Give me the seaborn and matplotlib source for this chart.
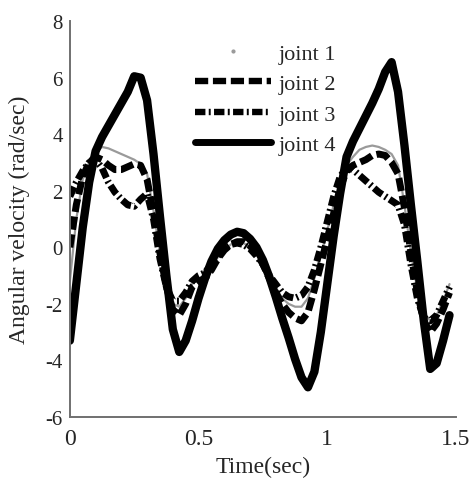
import numpy as np
import pandas as pd
import matplotlib
matplotlib.use("Agg")
import matplotlib.pyplot as plt
from matplotlib.lines import Line2D
import seaborn as sns

# Sample times (s) shared by all four joints
time_s = [0.000, 0.025, 0.050, 0.075, 0.100, 0.125, 0.150, 0.175, 0.200, 0.225,
          0.250, 0.275, 0.300, 0.325, 0.350, 0.375, 0.400, 0.425, 0.450, 0.475,
          0.500, 0.525, 0.550, 0.575, 0.600, 0.625, 0.650, 0.675, 0.700, 0.725,
          0.750, 0.775, 0.800, 0.825, 0.850, 0.875, 0.900, 0.925, 0.950, 0.975,
          1.000, 1.025, 1.050, 1.075, 1.100, 1.125, 1.150, 1.175, 1.200, 1.225,
          1.250, 1.275, 1.300, 1.325, 1.350, 1.375, 1.400, 1.425, 1.450, 1.475]

# Angular velocity of each joint (rad/sec)
joint1 = [-1.2, 1.0, 2.4, 3.0, 3.35, 3.55, 3.5, 3.4, 3.3, 3.2,
          3.1, 2.95, 2.6, 1.3, -0.2, -1.3, -2.0, -2.1, -1.8, -1.3,
          -1.1, -1.0, -0.7, -0.35, -0.1, 0.1, 0.2, 0.15, 0.0, -0.25,
          -0.6, -1.05, -1.45, -1.8, -2.0, -2.1, -2.1, -1.8, -1.1, -0.3,
          0.6, 1.5, 2.3, 2.9, 3.2, 3.45, 3.55, 3.6, 3.55, 3.45,
          3.3, 2.9, 1.5, -0.2, -1.5, -2.3, -2.6, -2.4, -1.9, -1.3]

joint2 = [0.0, 1.5, 2.5, 3.0, 3.2, 3.1, 2.9, 2.75, 2.75, 2.85,
          2.95, 2.9, 2.4, 1.2, -0.2, -1.4, -2.2, -2.4, -2.0, -1.4,
          -1.2, -1.1, -0.8, -0.4, -0.1, 0.1, 0.2, 0.2, 0.05, -0.2,
          -0.6, -1.1, -1.6, -2.0, -2.3, -2.5, -2.6, -2.3, -1.5, -0.6,
          0.3, 1.2, 2.1, 2.7, 2.9, 3.0, 3.1, 3.25, 3.3, 3.25,
          3.0, 2.6, 1.4, -0.2, -1.6, -2.6, -3.0, -2.7, -2.2, -1.6]

joint3 = [1.8, 2.3, 2.7, 3.0, 3.1, 2.8, 2.3, 1.95, 1.7, 1.5,
          1.45, 1.7, 1.9, 1.0, -0.4, -1.4, -1.9, -1.9, -1.6, -1.2,
          -1.0, -0.9, -0.6, -0.3, -0.05, 0.1, 0.15, 0.1, -0.05, -0.3,
          -0.6, -1.0, -1.3, -1.6, -1.75, -1.8, -1.7, -1.4, -0.8, 0.0,
          0.9, 1.8, 2.5, 2.8, 2.75, 2.55, 2.35, 2.15, 1.95, 1.8,
          1.65, 1.5, 0.8, -0.6, -1.8, -2.5, -2.6, -2.4, -1.9, -1.4]

joint4 = [-3.3, -1.3, 0.7, 2.3, 3.4, 3.9, 4.3, 4.7, 5.1, 5.5,
          6.05, 6.0, 5.2, 3.3, 1.1, -1.0, -2.9, -3.7, -3.3, -2.6,
          -1.8, -1.1, -0.5, -0.05, 0.25, 0.45, 0.55, 0.5, 0.3, 0.0,
          -0.45, -1.05, -1.75, -2.5, -3.2, -3.95, -4.6, -4.95, -4.4, -3.0,
          -1.3, 0.4, 1.9, 3.2, 3.75, 4.2, 4.65, 5.1, 5.6, 6.2,
          6.55, 5.5, 3.6, 1.5, -0.5, -2.6, -4.3, -4.1, -3.3, -2.4]

labels = ["joint 1", "joint 2", "joint 3", "joint 4"]
x_ticks = [0, 0.5, 1, 1.5]
x_ticklabels = ["0", "0.5", "1", "1.5"]
y_ticks = [-6, -4, -2, 0, 2, 4, 6, 8]

sns.set_style("white")
plt.rcParams["font.family"] = ["Liberation Serif", "DejaVu Serif"]
plt.rcParams["axes.unicode_minus"] = False
plt.rcParams["lines.scale_dashes"] = False

fig = plt.figure(figsize=(4.72, 4.81), dpi=100)
ax = fig.add_axes([0.148, 0.131, 0.818, 0.823])

styles = [
    dict(color="#9a9a9a", linewidth=1.6, linestyle="-"),
    dict(color="black", linewidth=5.0, linestyle=(0, (9.5, 3.4))),
    dict(color="black", linewidth=5.0, linestyle=(0, (7.5, 2.4, 1.4, 2.4))),
    dict(color="black", linewidth=6.0, linestyle="-"),
]

series = [joint1, joint2, joint3, joint4]
for vals, lab, st in zip(series, labels, styles):
    df = pd.DataFrame({"t": time_s, "w": vals})
    sns.lineplot(data=df, x="t", y="w", ax=ax, sort=False, **st)

ax.set_xlim(0, 1.5)
ax.set_ylim(-6, 8)
ax.set_xticks(x_ticks)
ax.set_xticklabels(x_ticklabels)
ax.set_yticks(y_ticks)
ax.tick_params(direction="in", length=5, width=1.2, color="#707070")
ax.tick_params(axis="x", labelsize=17, pad=8)
ax.tick_params(axis="y", labelsize=15, pad=5)
for side in ["top", "right"]:
    ax.spines[side].set_visible(False)
for side in ["left", "bottom"]:
    ax.spines[side].set_color("#707070")
    ax.spines[side].set_linewidth(1.4)

ax.set_xlabel("Time(sec)", fontsize=17, labelpad=5)
ax.set_ylabel("Angular velocity (rad/sec)", fontsize=17, labelpad=11)

handles = [
    Line2D([], [], color="#9a9a9a", marker=".", markersize=4, linestyle="none"),
    Line2D([], [], color="black", linewidth=4.6, linestyle=(0, (9.5, 3.4))),
    Line2D([], [], color="black", linewidth=4.6, linestyle=(0, (7.5, 2.4, 1.4, 2.4))),
    Line2D([], [], color="black", linewidth=5.0, linestyle="-"),
]
fig.legend(handles, labels, loc="upper left",
           bbox_to_anchor=(195 / 472, 1 - 44 / 481),
           frameon=False, fontsize=16, handlelength=3.4, handletextpad=0.35,
           labelspacing=0.45, borderpad=0, borderaxespad=0)

fig.savefig("out.png", dpi=100)
